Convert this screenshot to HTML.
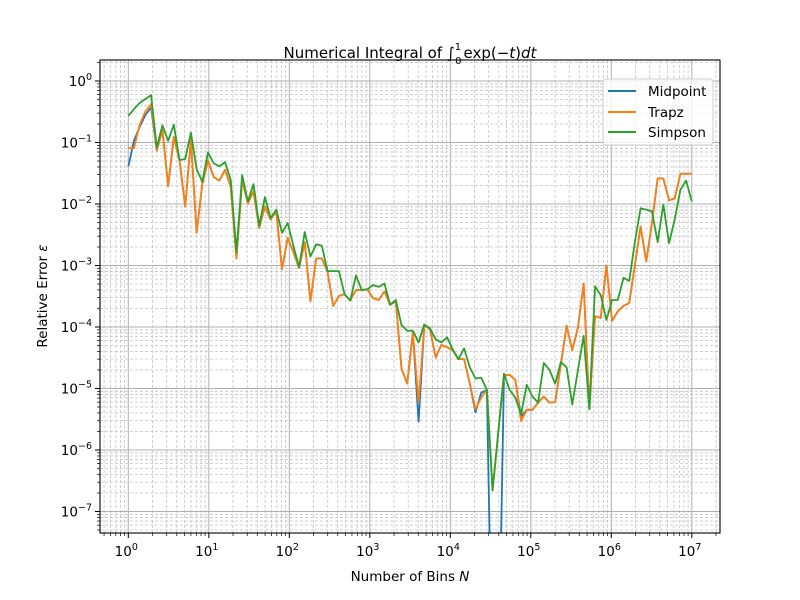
<!DOCTYPE html>
<html><head><meta charset="utf-8"><style>
html,body{margin:0;padding:0;background:#fff;overflow:hidden;width:800px;height:600px}
svg{display:block}
svg text{font-family:"DejaVu Sans","Liberation Sans",sans-serif;fill:#000}
</style></head><body>
<svg id="chart" width="800" height="600" viewBox="0 0 800 600" xmlns="http://www.w3.org/2000/svg">
<rect width="800" height="600" fill="#fff"/>
<defs><clipPath id="clip"><rect x="100" y="60" width="620" height="473"/></clipPath></defs>
<g id="grid"></g>
<g id="series" clip-path="url(#clip)"></g>
<rect x="100" y="60" width="620" height="473" fill="none" stroke="#000" stroke-width="1.1"/>
<g id="ticks"></g>
<text x="410" y="58" font-size="15" text-anchor="middle">Numerical Integral of ∫<tspan font-size="10" dy="-8">1</tspan><tspan font-size="10" dx="-6" dy="14">0</tspan><tspan dy="-6" dx="2">exp(−</tspan><tspan font-style="italic">t</tspan>)<tspan font-style="italic">dt</tspan></text>
<text x="410" y="581" font-size="13.5" text-anchor="middle">Number of Bins <tspan font-style="italic">N</tspan></text>
<text transform="translate(47,296) rotate(-90)" font-size="13.5" text-anchor="middle">Relative Error <tspan font-style="italic">ε</tspan></text>
<g>
<rect x="603" y="79" width="110" height="66" rx="3" fill="#fff" fill-opacity="0.8" stroke="#ccc"/>
<g><line x1="608" y1="91" x2="636" y2="91" stroke="#1f77b4" stroke-width="2"/><text x="648" y="96" font-size="13.5">Midpoint</text></g>
<g><line x1="608" y1="112" x2="636" y2="112" stroke="#ff7f0e" stroke-width="2"/><text x="648" y="117" font-size="13.5">Trapz</text></g>
<g><line x1="608" y1="132" x2="636" y2="132" stroke="#2ca02c" stroke-width="2"/><text x="648" y="137" font-size="13.5">Simpson</text></g>
</g>
</svg>
<script>
const xTickExps=[0,1,2,3,4,5,6,7];
const yTickExps=[0,-1,-2,-3,-4,-5,-6,-7];
const midpoint=[4.1e-2,1.07e-1,1.8e-1,2.8e-1,3.7e-1,7.4e-2,1.6e-1,1.95e-2,1.23e-1,5.1e-2,9.1e-3,1.12e-1,3.4e-3,2.1e-2,5.1e-2,2.75e-2,2.4e-2,3.6e-2,1.9e-2,1.3e-3,2.45e-2,1.02e-2,1.6e-2,4.1e-3,9.1e-3,5.6e-3,7.6e-3,8.7e-4,2.8e-3,1.66e-3,9.1e-4,2.4e-3,2.6e-4,1.3e-3,1.3e-3,7.9e-4,2.2e-4,3.2e-4,3.4e-4,2.7e-4,4.0e-4,4.0e-4,4.1e-4,2.95e-4,2.75e-4,3.8e-4,2.3e-4,2.6e-4,2.1e-5,1.2e-5,8.1e-5,2.9e-6,1.07e-4,9.3e-5,3.2e-5,5.1e-5,4.7e-5,4.2e-5,3.0e-5,3.0e-5,1.2e-5,4.1e-6,8.5e-6,9.5e-6,1e-10,1e-10,1.66e-5,1.66e-5,1.38e-5,3.5e-6,4.5e-6,4.5e-6,5.9e-6,7.4e-6,5.9e-6,6.0e-6,2.5e-5,1.05e-4,4.2e-5,9.8e-5,5.1e-4,4.6e-6,1.5e-4,1.4e-4,1.0e-3,1.26e-4,1.8e-4,2.2e-4,2.45e-4,1.0e-3,4.3e-3,1.17e-3,4.9e-3,2.6e-2,2.6e-2,1.15e-2,1.23e-2,3.1e-2,3.1e-2,3.1e-2];
const trapz=[8.1e-2,8.1e-2,1.95e-1,3.2e-1,4.2e-1,7.4e-2,1.6e-1,1.95e-2,1.23e-1,5.1e-2,9.1e-3,1.12e-1,3.4e-3,2.1e-2,5.1e-2,2.75e-2,2.4e-2,3.6e-2,1.9e-2,1.3e-3,2.45e-2,1.02e-2,1.6e-2,4.1e-3,9.1e-3,5.6e-3,7.6e-3,8.7e-4,2.8e-3,1.66e-3,9.1e-4,2.4e-3,2.6e-4,1.3e-3,1.3e-3,7.9e-4,2.2e-4,3.2e-4,3.4e-4,2.7e-4,4.0e-4,4.0e-4,4.1e-4,2.95e-4,2.75e-4,3.8e-4,2.3e-4,2.6e-4,2.1e-5,1.2e-5,8.1e-5,5.9e-6,1.07e-4,9.3e-5,3.2e-5,5.1e-5,4.7e-5,4.2e-5,3.0e-5,3.0e-5,1.2e-5,4.6e-6,7.1e-6,9.5e-6,2.2e-7,1.95e-6,1.66e-5,1.66e-5,1.38e-5,2.95e-6,4.5e-6,4.5e-6,5.9e-6,7.4e-6,5.9e-6,6.0e-6,2.5e-5,1.05e-4,4.2e-5,9.8e-5,5.1e-4,4.6e-6,1.5e-4,1.4e-4,1.0e-3,1.26e-4,1.8e-4,2.2e-4,2.45e-4,1.0e-3,4.3e-3,1.17e-3,4.9e-3,2.6e-2,2.6e-2,1.15e-2,1.23e-2,3.1e-2,3.1e-2,3.1e-2];
const simpson=[2.7e-1,3.5e-1,4.4e-1,5.1e-1,5.9e-1,8.3e-2,1.9e-1,1.07e-1,1.95e-1,5.2e-2,5.4e-2,1.45e-1,3.7e-2,2.3e-2,6.9e-2,4.6e-2,4.1e-2,4.8e-2,2.45e-2,1.66e-3,2.95e-2,1.1e-2,2.1e-2,4.4e-3,1.3e-2,5.9e-3,8.1e-3,3.4e-3,4.9e-3,2.1e-3,9.5e-4,3.5e-3,1.4e-3,2.2e-3,2.1e-3,8.1e-4,8.1e-4,8.1e-4,3.4e-4,2.7e-4,6.9e-4,4.0e-4,4.1e-4,4.8e-4,4.5e-4,5.1e-4,2.3e-4,2.75e-4,1.07e-4,8.7e-5,8.7e-5,5.6e-5,1.1e-4,9.5e-5,6.3e-5,5.6e-5,6.8e-5,4.3e-5,3.0e-5,4.5e-5,2.2e-5,1.45e-5,1.5e-5,9.5e-6,2.2e-7,1.95e-6,1.74e-5,9.5e-6,7.1e-6,3.8e-6,1.15e-5,7.4e-6,5.9e-6,2.6e-5,2.0e-5,1.2e-5,2.7e-5,2.2e-5,5.5e-6,2.0e-5,7.2e-5,4.6e-6,4.6e-4,3.3e-4,1.3e-4,2.75e-4,2.75e-4,6.3e-4,5.6e-4,2.4e-3,8.5e-3,8.1e-3,7.6e-3,2.4e-3,9.8e-3,2.3e-3,5.6e-3,1.7e-2,2.4e-2,1.1e-2];
const nPoints=midpoint.length;
const logNmin=0, logNmax=7;

const NS='http://www.w3.org/2000/svg';
const X0=128.3, XD=80.5, Y0=81, YD=61.5;
function xPos(logN){return X0+logN*XD;}
function yPos(v){return Y0-Math.log10(v)*YD;}
function mk(tag,attrs,parent){const e=document.createElementNS(NS,tag);for(const k in attrs)e.setAttribute(k,attrs[k]);parent.appendChild(e);return e;}
const grid=document.getElementById('grid'), ticks=document.getElementById('ticks'), series=document.getElementById('series');

for(let d=-1;d<=7;d++){
  for(let m=1;m<10;m++){
    const x=xPos(d+Math.log10(m));
    if(x<100||x>720)continue;
    const major=m===1;
    const gl=mk('line',{x1:x,y1:60,x2:x,y2:533,stroke:major?'#b0b0b0':'#c4c4c4','stroke-width':major?1:0.8,'stroke-dasharray':major?'none':'3,2'},grid);
    
    
    const t=mk('line',{x1:x,y1:533,x2:x,y2:533+(major?5:3),stroke:'#000','stroke-width':major?1:0.7},ticks);
    
    
  }
}
xTickExps.forEach(e=>{
  const x=xPos(e);
  const t=mk('text',{x:x-2,y:556,'font-size':13.5,'text-anchor':'middle'},ticks);
  
  
  t.textContent='10';
  const s=mk('tspan',{'font-size':9.5,dy:-6},t);s.textContent=String(e);
});
for(let d=-8;d<=0;d++){
  for(let m=1;m<10;m++){
    const y=yPos(m*Math.pow(10,d));
    if(y<60||y>533)continue;
    const major=m===1;
    const gl=mk('line',{x1:100,y1:y,x2:720,y2:y,stroke:major?'#b0b0b0':'#c4c4c4','stroke-width':major?1:0.8,'stroke-dasharray':major?'none':'3,2'},grid);
    
    
    const t=mk('line',{x1:100-(major?5:3),y1:y,x2:100,y2:y,stroke:'#000','stroke-width':major?1:0.7},ticks);
    
    
  }
}
yTickExps.forEach(e=>{
  const y=yPos(Math.pow(10,e));
  const t=mk('text',{x:92,y:y+5,'font-size':13.5,'text-anchor':'end'},ticks);
  
  
  t.textContent='10';
  const s=mk('tspan',{'font-size':9.5,dy:-6},t);s.textContent=(e<0?'−':'')+Math.abs(e);
});
function draw(arr,color,name){
  const pts=arr.map((v,i)=>{const ln=logNmin+(logNmax-logNmin)*i/(nPoints-1);return xPos(ln).toFixed(2)+','+yPos(v).toFixed(2);}).join(' ');
  const p=mk('polyline',{points:pts,fill:'none',stroke:color,'stroke-width':1.8,'stroke-linejoin':'round'},series);
  
  
}
draw(midpoint,'#1f77b4','midpoint-line');
draw(trapz,'#ff7f0e','trapz-line');
draw(simpson,'#2ca02c','simpson-line');
</script>
</body></html>
